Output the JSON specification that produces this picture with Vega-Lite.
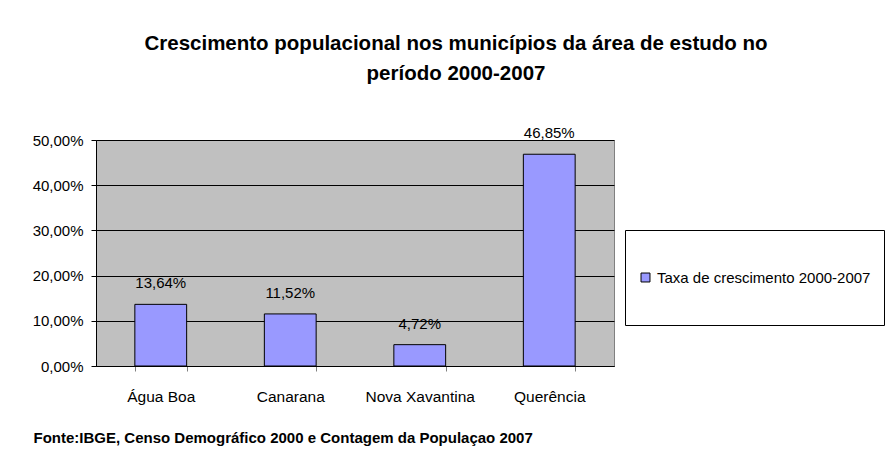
{
  "$schema": "https://vega.github.io/schema/vega-lite/v6.json",
  "autosize": {"type": "none"},
  "width": 518,
  "height": 226,
  "padding": {"left": 96, "top": 140, "right": 273, "bottom": 96},
  "background": "white",
  "title": {
    "text": ["Crescimento populacional nos municípios da área de estudo no", "período 2000-2007"],
    "anchor": "middle",
    "frame": "group",
    "dx": 101,
    "offset": 42,
    "font": "Liberation Sans, Arial",
    "fontSize": 20.5,
    "fontWeight": "bold",
    "lineHeight": 30,
    "color": "black"
  },
  "data": {
    "values": [
      {"municipio": "Água Boa", "taxa": 0.1364, "serie": "Taxa de crescimento 2000-2007"},
      {"municipio": "Canarana", "taxa": 0.1152, "serie": "Taxa de crescimento 2000-2007"},
      {"municipio": "Nova Xavantina", "taxa": 0.0472, "serie": "Taxa de crescimento 2000-2007"},
      {"municipio": "Querência", "taxa": 0.4685, "serie": "Taxa de crescimento 2000-2007"}
    ]
  },
  "encoding": {
    "x": {
      "field": "municipio",
      "type": "nominal",
      "sort": null,
      "scale": {"paddingInner": 0.6, "paddingOuter": 0.3},
      "axis": {
        "title": "Fonte:IBGE, Censo Demográfico 2000 e Contagem da Populaçao 2007",
        "titleX": -63,
        "titleY": 71,
        "titleAlign": "left",
        "titleBaseline": "middle",
        "titleFontWeight": "bold",
        "titleFontSize": 15,
        "titleFont": "Liberation Sans, Arial",
        "titleColor": "black",
        "labelAngle": 0,
        "labelFontSize": 15.5,
        "labelPadding": 18,
        "tickBand": "extent",
        "tickSize": 5,
        "tickColor": "#808080",
        "domainColor": "black",
        "grid": false
      }
    },
    "y": {
      "field": "taxa",
      "type": "quantitative",
      "scale": {"domain": [0, 0.5], "nice": false},
      "axis": {
        "title": null,
        "format": ".2%",
        "values": [0, 0.1, 0.2, 0.3, 0.4, 0.5],
        "labelFontSize": 15,
        "labelPadding": 8,
        "tickSize": 5,
        "tickColor": "black",
        "domainColor": "black",
        "grid": true,
        "gridColor": "black",
        "gridOpacity": 1,
        "gridWidth": 1
      }
    }
  },
  "layer": [
    {
      "mark": {"type": "bar", "stroke": "black", "strokeWidth": 1},
      "encoding": {
        "color": {
          "field": "serie",
          "type": "nominal",
          "scale": {"range": ["#9999FF"]},
          "legend": {
            "orient": "none",
            "legendX": 529,
            "legendY": 90,
            "title": null,
            "strokeColor": "black",
            "fillColor": "white",
            "padding": 13,
            "clipHeight": 69,
            "symbolType": "square",
            "symbolSize": 80,
            "symbolStrokeColor": "black",
            "symbolStrokeWidth": 1,
            "symbolFillColor": "#9999FF",
            "labelFontSize": 15,
            "labelLimit": 400,
            "labelOffset": 4
          }
        }
      }
    },
    {
      "mark": {"type": "text", "baseline": "middle", "dy": -21, "fontSize": 15, "color": "black"},
      "encoding": {
        "text": {"field": "taxa", "type": "quantitative", "format": ".2%"}
      }
    }
  ],
  "config": {
    "locale": {
      "number": {"decimal": ",", "thousands": ".", "grouping": [3], "currency": ["R$", ""]}
    },
    "font": "Liberation Sans, Arial",
    "view": {"fill": "#C0C0C0", "stroke": "#808080", "strokeWidth": 1},
    "axis": {"labelColor": "black", "labelFont": "Liberation Sans, Arial"},
    "legend": {"labelColor": "black", "labelFont": "Liberation Sans, Arial"}
  }
}
